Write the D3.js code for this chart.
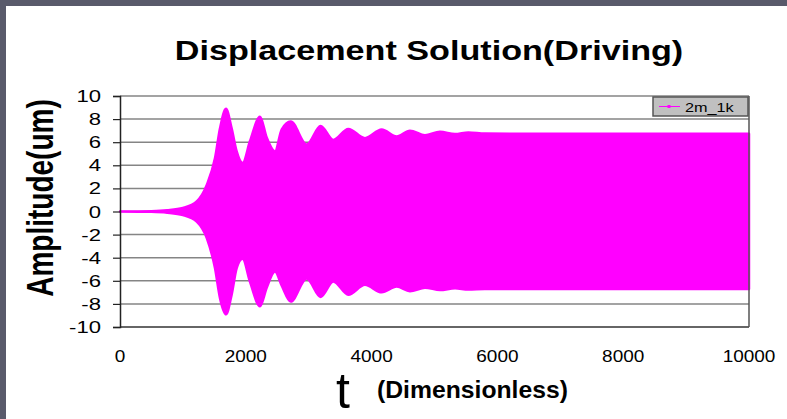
<!DOCTYPE html>
<html>
<head>
<meta charset="utf-8">
<script src="https://cdn.jsdelivr.net/npm/d3@7"></script>
<style>
  body { margin: 0; background: #fff; }
  svg { display: block; font-family: "Liberation Sans", Arial, sans-serif; }
</style>
</head>
<body>
<svg width="787" height="419"></svg>
<script>
// envelope of the oscillation
const tEnv = [0, 500, 750, 1000, 1220, 1380, 1510, 1590, 1685, 1775, 1855, 1950, 2067, 2226, 2332, 2464, 2570, 2714, 2968, 3190, 3391, 3630, 3895, 4160, 4399, 4610, 4849, 5087, 5326, 5538, 5800, 6500, 8000, 10000];
const upperEnv = [0, 0.03, 0.1, 0.3, 0.87, 2.3, 4.6, 7.2, 8.9, 7.2, 5.2, 4.2, 6.1, 8.2, 6.4, 5.2, 7.1, 7.8, 5.8, 7.4, 6.2, 7.15, 6.35, 7.1, 6.5, 7.0, 6.6, 6.9, 6.7, 6.85, 6.75, 6.73, 6.73, 6.73];
const lowerEnv = [0, -0.03, -0.1, -0.3, -0.87, -2.3, -4.9, -7.5, -8.9, -7.2, -4.9, -4.1, -6.1, -8.2, -6.6, -5.2, -6.4, -7.8, -5.8, -7.4, -6.06, -7.2, -6.35, -7.0, -6.5, -6.9, -6.6, -6.8, -6.65, -6.75, -6.7, -6.7, -6.7, -6.7];

const xTicks = [0, 2000, 4000, 6000, 8000, 10000];
const yTicks = [-10, -8, -6, -4, -2, 0, 2, 4, 6, 8, 10];
const seriesName = "2m_1k";

var svg = d3.select("svg");
const width = +svg.attr("width");
const height = +svg.attr("height");

const plotL = 120, plotR = 749, plotT = 96, plotB = 327;
const magenta = "#ff00ff";

const x = d3.scaleLinear().domain([0, 10000]).range([plotL, plotR]);
const y = d3.scaleLinear().domain([-10, 10]).range([plotB, plotT]);

// slide frame
svg.append("rect").attr("width", width).attr("height", height).attr("fill", "#fff");
svg.append("rect").attr("width", width).attr("height", 6).attr("fill", "#595a6b");
svg.append("rect").attr("width", 6).attr("height", height).attr("fill", "#595a6b");

// grid
svg.append("g")
	.selectAll("line")
	.data(yTicks.filter(d => d > -10))
	.join("line")
	.attr("x1", plotL).attr("x2", plotR)
	.attr("y1", d => y(d)).attr("y2", d => y(d))
	.attr("stroke", "#858585")
	.attr("stroke-width", 1.5);

// envelope
const env = tEnv.map((t, i) => ({t: t, hi: upperEnv[i], lo: lowerEnv[i]}));
svg.append("path")
	.datum(env)
	.attr("fill", magenta)
	.attr("stroke", magenta)
	.attr("stroke-width", 2.5)
	.attr("stroke-linejoin", "round")
	.attr("d", d3.area()
		.x(d => x(d.t))
		.y0(d => y(d.lo))
		.y1(d => y(d.hi))
		.curve(d3.curveMonotoneX));

// plot frame
svg.append("line").attr("x1", plotL).attr("x2", plotR).attr("y1", plotB).attr("y2", plotB)
	.attr("stroke", "#333").attr("stroke-width", 1.5);
svg.append("line").attr("x1", plotR).attr("x2", plotR).attr("y1", plotT).attr("y2", plotB)
	.attr("stroke", "#555").attr("stroke-width", 1.5);

// y axis (line and ticks only, labels drawn below)
const yAxis = svg.append("g")
	.attr("transform", `translate(${plotL},0)`)
	.call(d3.axisLeft(y).tickValues(yTicks).tickSize(7).tickFormat(""));
yAxis.select(".domain").attr("stroke", "#222").attr("stroke-width", 1.5);
yAxis.selectAll(".tick line").attr("stroke", "#222").attr("stroke-width", 1.2);

svg.append("g")
	.selectAll("text")
	.data(yTicks)
	.join("text")
	.attr("transform", d => `translate(101,${y(d) + 6}) scale(1.3,1)`)
	.attr("text-anchor", "end")
	.attr("font-size", 17)
	.text(d => d);

// x tick labels
svg.append("g")
	.selectAll("text")
	.data(xTicks)
	.join("text")
	.attr("transform", d => `translate(${x(d)},362) scale(1.15,1)`)
	.attr("text-anchor", "middle")
	.attr("font-size", 16.5)
	.text(d => d);

// titles
svg.append("text")
	.attr("transform", "translate(429,60) scale(1.22,1)")
	.attr("text-anchor", "middle")
	.attr("font-size", 28)
	.attr("font-weight", "bold")
	.text("Displacement Solution(Driving)");

svg.append("text")
	.attr("transform", "translate(53,198) rotate(-90) scale(1,1.3)")
	.attr("text-anchor", "middle")
	.attr("font-size", 28)
	.attr("font-weight", "bold")
	.text("Amplitude(um)");

svg.append("text")
	.attr("transform", "translate(343,408)")
	.attr("text-anchor", "middle")
	.attr("font-size", 50)
	.text("t");

svg.append("text")
	.attr("transform", "translate(377,398) scale(1.03,1)")
	.attr("font-size", 24)
	.attr("font-weight", "bold")
	.text("(Dimensionless)");

// legend
const lg = svg.append("g").attr("transform", "translate(653,97)");
lg.append("rect").attr("width", 95).attr("height", 19)
	.attr("fill", "#c0c0c0").attr("stroke", "#555").attr("stroke-width", 1.5);
lg.append("line").attr("x1", 6).attr("x2", 27).attr("y1", 9.5).attr("y2", 9.5)
	.attr("stroke", magenta).attr("stroke-width", 1);
lg.append("rect").attr("x", 14.5).attr("y", 8).attr("width", 3).attr("height", 3).attr("fill", magenta);
lg.append("text")
	.attr("transform", "translate(32,14.5) scale(1.25,1)")
	.attr("font-size", 13)
	.text(seriesName);
</script>
</body>
</html>
